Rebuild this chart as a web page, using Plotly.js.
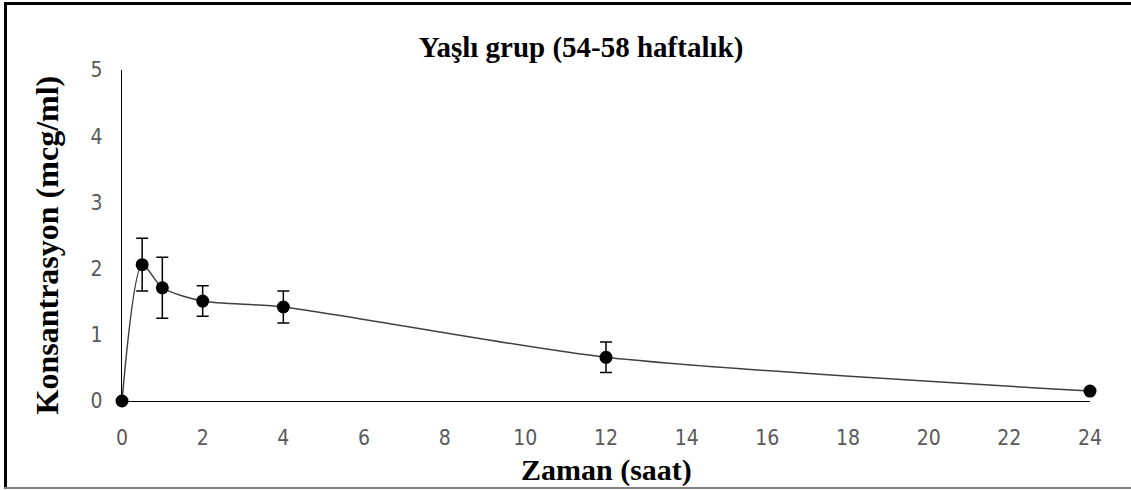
<!DOCTYPE html>
<html>
<head>
<meta charset="utf-8">
<script src="https://cdn.plot.ly/plotly-3.0.1.min.js"></script>
<style>
  html, body { margin: 0; padding: 0; background: #fff; }
  #wrap { position: relative; width: 1131px; height: 490px; }
  #chart { width: 1131px; height: 490px; }
  .bd { position: absolute; pointer-events: none; }
</style>
</head>
<body>
<div id="wrap">
  <div id="chart"></div>
  <div class="bd" style="left:4px; top:2px; width:3px; height:487px; background:#000;"></div>
  <div class="bd" style="left:4px; top:2px; width:1127px; height:3px; background:#000;"></div>
  <div class="bd" style="left:4px; top:487px; width:1127px; height:2px; background:#808080;"></div>
</div>
<script>
// Data
var times = [0, 0.5, 1, 2, 4, 12, 24];            // Zaman (saat)
var concentration = [0, 2.06, 1.71, 1.51, 1.42, 0.66, 0.15]; // mcg/ml
var errors = [0, 0.40, 0.46, 0.23, 0.24, 0.23, 0];
var xTicks = [0, 2, 4, 6, 8, 10, 12, 14, 16, 18, 20, 22, 24];
var yTicks = [0, 1, 2, 3, 4, 5];

var chartTitle = 'Yaşlı grup (54-58 haftalık)';
var xTitle = 'Zaman (saat)';
var yTitle = 'Konsantrasyon (mcg/ml)';

var serif = '"Liberation Serif", "Times New Roman", serif';
var tickFont = '"Liberation Sans Narrow", "DejaVu Sans Condensed", "Open Sans", sans-serif';

var trace = {
  x: times,
  y: concentration,
  type: 'scatter',
  mode: 'lines+markers',
  line: { color: '#404040', width: 1.5, shape: 'spline', smoothing: 0.7 },
  marker: { color: '#000', size: 13 },
  error_y: { type: 'data', array: errors, visible: true, color: '#000', thickness: 1.5, width: 6 },
  cliponaxis: false,
  showlegend: false
};

var layout = {
  width: 1131,
  height: 490,
  margin: { l: 122, r: 41, t: 70, b: 89 },
  paper_bgcolor: '#fff',
  plot_bgcolor: '#fff',
  title: {
    text: '<b>' + chartTitle + '</b>',
    font: { family: serif, size: 29, color: '#000' },
    x: 581 / 1131, xanchor: 'center', xref: 'container',
    y: 1 - 47 / 490, yanchor: 'middle', yref: 'container'
  },
  xaxis: {
    range: [0, 24],
    tickvals: xTicks,
    ticktext: xTicks.map(String),
    showgrid: false,
    zeroline: false,
    showline: true,
    linecolor: '#000',
    linewidth: 1.3,
    ticks: '',
    ticklabelstandoff: 17,
    tickfont: { family: tickFont, size: 21, color: '#595959' },
    fixedrange: true
  },
  yaxis: {
    range: [0, 5],
    tickvals: yTicks,
    ticktext: yTicks.map(String),
    showgrid: false,
    zeroline: false,
    showline: true,
    linecolor: '#000',
    linewidth: 1.3,
    ticks: '',
    ticklabelstandoff: 14,
    tickfont: { family: tickFont, size: 21, color: '#595959' },
    fixedrange: true
  },
  annotations: [
    {
      text: '<b>' + xTitle + '</b>',
      xref: 'paper', yref: 'paper',
      x: 0.5, y: 0, yshift: -69,
      xanchor: 'center', yanchor: 'middle',
      showarrow: false,
      font: { family: serif, size: 30, color: '#000' }
    },
    {
      text: '<b>' + yTitle + '</b>',
      xref: 'paper', yref: 'paper',
      x: 0, xshift: -75, y: 0.47,
      xanchor: 'center', yanchor: 'middle',
      textangle: -90,
      showarrow: false,
      font: { family: serif, size: 32, color: '#000' }
    }
  ]
};

Plotly.newPlot('chart', [trace], layout, { staticPlot: true, displayModeBar: false });
</script>
</body>
</html>
